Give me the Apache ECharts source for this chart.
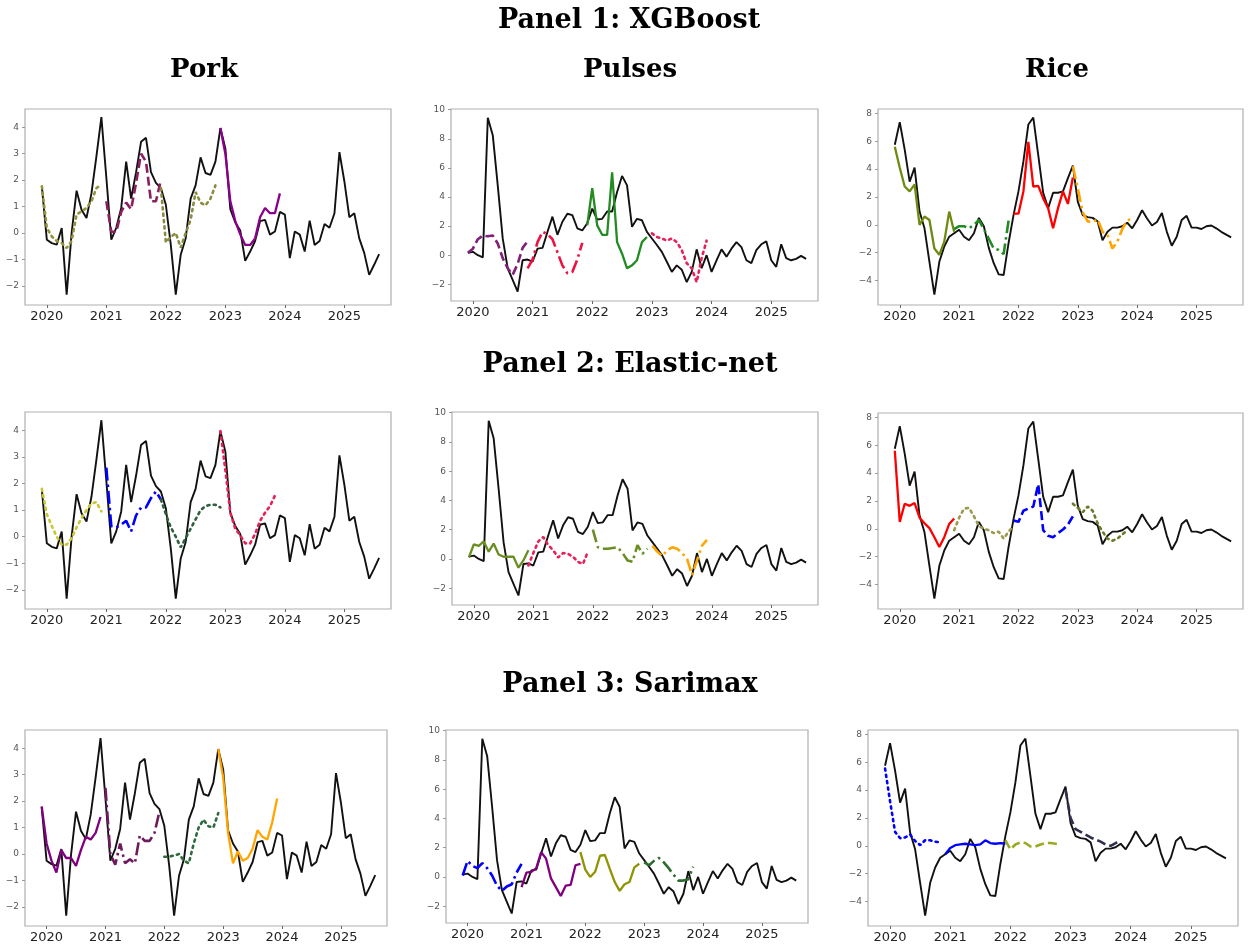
<!DOCTYPE html>
<html><head><meta charset="utf-8">
<script src="https://cdn.jsdelivr.net/npm/echarts@6/dist/echarts.min.js"></script>
<style>html,body{margin:0;padding:0;background:#fff}#c{width:1250px;height:944px}</style>
</head><body><div id="c"></div>
<script>
// ---------------- DATA ----------------
// x = months since Jan 2020; actual series begin Dec 2019 (month -1)
const firstMonth = -1;
const yearTicks = [2020, 2021, 2022, 2023, 2024, 2025];
const commodities = ['Pork', 'Pulses', 'Rice'];
const panelTitles = ['Panel 1: XGBoost', 'Panel 2: Elastic-net', 'Panel 3: Sarimax'];

const porkActual = [1.77,-0.25,-0.38,-0.44,0.19,-2.33,0.0,1.6,0.88,0.57,1.5,2.9,4.38,2.1,-0.25,0.2,0.95,2.7,1.3,2.3,3.45,3.6,2.3,1.9,1.7,1.07,-0.45,-2.33,-0.82,-0.2,1.3,1.8,2.86,2.27,2.2,2.7,3.97,3.2,0.9,0.4,0.1,-1.05,-0.7,-0.3,0.45,0.5,-0.06,0.06,0.8,0.7,-0.95,0.06,-0.06,-0.7,0.47,-0.45,-0.3,0.34,0.2,0.75,3.06,1.95,0.6,0.75,-0.2,-0.75,-1.58,-1.2,-0.8];
const pulsesActual = [0.16,0.23,0.0,-0.15,9.45,8.25,4.8,1.15,-0.9,-1.7,-2.5,-0.35,-0.3,-0.45,0.45,0.5,1.6,2.65,1.4,2.3,2.85,2.75,1.85,1.7,2.2,3.2,2.45,2.5,3.0,3.0,4.35,5.45,4.8,1.95,2.5,2.4,1.6,1.15,0.7,0.23,-0.45,-1.15,-0.7,-1.0,-1.85,-1.15,0.4,-0.9,0.0,-1.15,-0.35,0.4,-0.1,0.45,0.9,0.55,-0.35,-0.55,0.35,0.75,0.95,-0.35,-0.8,0.75,-0.2,-0.35,-0.25,-0.05,-0.25];
const riceActual = [5.75,7.37,5.4,3.1,4.1,0.95,-0.25,-2.65,-5.0,-2.65,-1.55,-0.85,-0.6,-0.35,-0.85,-1.1,-0.6,0.5,-0.1,-1.65,-2.75,-3.55,-3.6,-1.3,0.7,2.4,4.55,7.2,7.7,5.0,2.3,1.2,2.3,2.3,2.4,3.35,4.25,1.65,0.7,0.55,0.5,0.25,-1.1,-0.5,-0.2,-0.2,-0.1,0.15,-0.25,0.35,1.05,0.45,-0.05,0.2,0.85,-0.5,-1.5,-0.85,0.35,0.65,-0.2,-0.2,-0.3,-0.1,-0.05,-0.25,-0.5,-0.7,-0.9];

// forecast segments: start month + values
const porkXgbStarts = [-1, 12, 23, 35];
const porkXgb1 = [1.77,0.2,-0.13,-0.3,-0.38,-0.57,-0.3,0.7,0.82,0.95,1.2,1.7,1.83];
const porkXgb2 = [1.2,0.05,0.05,0.8,1.15,0.9,1.9,3.0,2.7,1.2,1.2,2.0];
const porkXgb3 = [1.7,-0.35,-0.15,0.0,-0.55,0.0,0.5,1.55,1.15,1.05,1.3,1.8];
const porkXgb4 = [3.97,3.0,1.2,0.45,-0.05,-0.45,-0.45,-0.2,0.6,0.95,0.75,0.75,1.5];

const porkEnStarts = [-1, 12, 23, 35];
const porkEn1 = [1.8,0.85,0.4,0.0,-0.3,-0.3,-0.05,0.35,0.7,1.0,1.25,1.3,0.95];
const porkEn2 = [2.6,0.4,0.35,0.45,0.6,0.2,0.8,1.1,1.1,1.45,1.7,1.4];
const porkEn3 = [1.4,0.85,0.35,0.0,-0.4,-0.05,0.3,0.65,1.0,1.15,1.2,1.2,1.1];
const porkEn4 = [3.97,2.5,0.9,0.3,0.05,-0.25,-0.25,0.1,0.6,0.9,1.15,1.55];

const porkSxStarts = [-1, 12, 24, 35];
const porkSx1 = [1.8,0.4,-0.25,-0.7,0.15,-0.15,-0.15,-0.45,0.15,0.65,0.55,0.8,1.4];
const porkSx2 = [2.5,0.0,-0.4,0.4,-0.35,-0.2,-0.35,0.7,0.5,0.5,0.8,1.6];
const porkSx3 = [-0.1,-0.1,-0.05,0.0,-0.25,-0.35,0.4,1.0,1.3,1.05,1.0,1.55];
const porkSx4 = [3.97,2.9,0.8,-0.35,0.1,-0.25,-0.15,0.2,0.9,0.65,0.55,1.2,2.1];

const pulsesXgbStarts = [-1, 11, 23, 36];
const pulsesXgb1 = [0.16,0.45,1.1,1.35,1.3,1.35,0.8,-0.2,-0.9,-1.35,-0.6,0.5,0.95];
const pulsesXgb2 = [-0.9,-0.3,0.9,1.6,1.45,1.1,0.2,-0.7,-1.25,-1.15,-0.3,0.85];
const pulsesXgb3 = [2.05,4.6,2.05,1.4,1.4,5.7,0.9,0.1,-0.9,-0.7,-0.35,0.9,1.25];
const pulsesXgb4 = [1.5,1.25,1.15,1.0,1.15,0.9,0.35,-0.55,-0.9,-1.85,-0.2,1.0];

const pulsesEnStarts = [-1, 11, 24, 36];
const pulsesEn1 = [0.1,1.0,0.9,1.2,0.5,1.05,0.3,0.15,0.15,0.15,-0.6,-0.1,0.6];
const pulsesEn2 = [-0.45,0.4,1.2,1.5,0.95,0.6,0.1,0.4,0.35,0.15,-0.2,-0.35,0.5];
const pulsesEn3 = [2.0,0.8,0.7,0.7,0.75,0.8,0.4,-0.1,-0.2,0.95,0.35,0.7];
const pulsesEn4 = [0.9,0.5,0.2,0.6,0.8,0.7,0.4,0.0,-1.1,-0.1,0.9,1.3];

const pulsesSxStarts = [-1, 11, 23, 36];
const pulsesSx1 = [0.1,1.1,0.75,0.6,0.95,0.6,0.1,-0.6,-0.95,-0.65,-0.5,0.3,0.9];
const pulsesSx2 = [-0.7,0.3,0.35,0.6,1.7,1.25,-0.1,-0.7,-1.3,-0.6,-0.55,0.8,0.9];
const pulsesSx3 = [1.7,0.5,0.0,0.35,1.45,1.5,0.55,-0.35,-0.95,-0.5,-0.35,0.65,0.9];
const pulsesSx4 = [1.0,0.8,1.1,1.3,1.0,0.6,0.15,-0.25,-0.25,-0.15,0.7];

const riceXgbStarts = [-1, 11, 23, 35];
const riceXgb1 = [5.6,4.1,2.75,2.4,2.9,0.0,0.6,0.35,-1.7,-2.15,-1.2,0.95,-0.5];
const riceXgb2 = [-0.3,-0.1,-0.1,-0.25,0.0,0.35,-0.3,-1.0,-1.7,-1.8,-2.1,0.3];
const riceXgb3 = [0.8,0.8,2.4,5.95,2.75,2.8,1.9,1.2,-0.25,1.2,2.4,1.5,3.4];
const riceXgb4 = [4.2,2.6,0.9,0.25,0.2,0.4,-0.5,-0.7,-1.7,-1.2,-0.3,0.3,0.5];

const riceEnStarts = [-1, 11, 23, 35];
const riceEn1 = [5.6,0.5,1.8,1.65,1.85,0.8,0.4,0.05,-0.6,-1.3,-0.6,0.35,0.75];
const riceEn2 = [-0.1,0.8,1.45,1.5,0.9,0.2,0.0,-0.1,-0.3,-0.2,-0.7,-0.2,0.2];
const riceEn3 = [0.6,0.5,1.3,1.45,1.6,3.2,-0.1,-0.5,-0.6,-0.3,-0.05,0.3,0.9];
const riceEn4 = [1.8,1.5,1.2,1.6,1.3,0.4,-0.2,-0.7,-0.85,-0.7,-0.4,-0.1];

const riceSxStarts = [-1, 11, 23, 35];
const riceSx1 = [5.55,3.2,1.0,0.55,0.6,0.8,0.35,0.05,0.4,0.4,0.3,0.25];
const riceSx2 = [-0.6,-0.15,0.05,0.1,0.15,0.1,0.05,0.1,0.4,0.2,0.15,0.2,0.15];
const riceSx3 = [0.4,-0.25,0.1,0.25,0.2,-0.05,-0.05,0.1,0.2,0.2,0.15,0.15];
const riceSx4 = [4.0,2.0,1.2,1.0,0.8,0.6,0.45,0.3,0.1,0.0,0.2,0.3];

const porkTicks = [-2,-1,0,1,2,3,4];
const pulsesTicks = [-2,0,2,4,6,8,10];
const riceTicks = [-4,-2,0,2,4,6,8];

// ---------------- STYLES / LAYOUT ----------------
const DASH = {solid:'solid', dot:[2.2,4.2], dash:[9,4], dashdot:[13,4,2.5,4]};
const styleTable = [
  // row 0 XGBoost
  [[['#94943c','dot'],['#8b2060','dash'],['#8a8a40','dot'],['#8b008b','solid']],
   [['#80207a','dash'],['#ee1144','dashdot'],['#228b22','solid'],['#e8205a','dot']],
   [['#6f8a10','solid'],['#228b22','dashdot'],['#ff0000','solid'],['#ffa500','dashdot']]],
  // row 1 Elastic-net
  [[['#c8c832','dot'],['#0000ff','dashdot'],['#2f5f3f','dot'],['#e8205a','dot']],
   [['#6b8e23','solid'],['#e8205a','dot'],['#6b8e23','dashdot'],['#ffa500','dashdot']],
   [['#ff0000','solid'],['#9a9a50','dot'],['#0000ff','dash'],['#6b7b2b','dot']]],
  // row 2 Sarimax
  [[['#800080','solid'],['#6e1a5e','dashdot'],['#2e6b3e','dot'],['#ffa500','solid']],
   [['#0000ff','dashdot'],['#800080','solid'],['#8f9400','solid'],['#2e6b2e','dashdot']],
   [['#0000ff','dot'],['#0000ff','solid'],['#9aaa20','dash'],['#2f2f4f','dash']]]
];
const gridBoxes = [
  [[25,109,366,196],[451,109,367,192],[878,109,365,196]],
  [[25,412,366,197],[452,412,366,193],[878,413,365,196]],
  [[25,730,362,197],[446,730,362,193],[868,730,370,197]]
];
const yRanges = [[-2.72,4.69],[-3.15,10.05],[-5.75,8.31]];

const actuals = [porkActual, pulsesActual, riceActual];
const tickSets = [porkTicks, pulsesTicks, riceTicks];
const segData = [
  [[porkXgbStarts,[porkXgb1,porkXgb2,porkXgb3,porkXgb4]],[pulsesXgbStarts,[pulsesXgb1,pulsesXgb2,pulsesXgb3,pulsesXgb4]],[riceXgbStarts,[riceXgb1,riceXgb2,riceXgb3,riceXgb4]]],
  [[porkEnStarts,[porkEn1,porkEn2,porkEn3,porkEn4]],[pulsesEnStarts,[pulsesEn1,pulsesEn2,pulsesEn3,pulsesEn4]],[riceEnStarts,[riceEn1,riceEn2,riceEn3,riceEn4]]],
  [[porkSxStarts,[porkSx1,porkSx2,porkSx3,porkSx4]],[pulsesSxStarts,[pulsesSx1,pulsesSx2,pulsesSx3,pulsesSx4]],[riceSxStarts,[riceSx1,riceSx2,riceSx3,riceSx4]]]
];

// ---------------- BUILD ----------------
const grids=[], xAxes=[], yAxes=[], series=[];
const xTickVals = yearTicks.map(y => (y-2020)*12);
const fmtNum = v => (v<0 ? '\u2212'+Math.abs(v) : String(v));
for (let r=0;r<3;r++) for (let c=0;c<3;c++) {
  const i = r*3+c, b = gridBoxes[r][c];
  grids.push({left:b[0], top:b[1], width:b[2], height:b[3], show:true, borderColor:'#b0b0b0', borderWidth:1.2, backgroundColor:'transparent', containLabel:false});
  xAxes.push({gridIndex:i, type:'value', min:-4.4, max:69.4, position:'bottom',
    axisLine:{show:false, onZero:false}, splitLine:{show:false},
    axisTick:{show:true, customValues:xTickVals, length:3, lineStyle:{color:'#666'}},
    axisLabel:{customValues:xTickVals, formatter:v=>String(yearTicks[Math.round(v/12)]), fontSize:13, color:'#222', margin:5, fontFamily:'DejaVu Sans'}});
  yAxes.push({gridIndex:i, type:'value', min:yRanges[c][0], max:yRanges[c][1], position:'left',
    axisLine:{show:false, onZero:false}, splitLine:{show:false},
    axisTick:{show:true, customValues:tickSets[c], length:3, lineStyle:{color:'#999'}},
    axisLabel:{customValues:tickSets[c], formatter:fmtNum, fontSize:9, color:'#555', margin:6, fontFamily:'DejaVu Sans'}});
  series.push({type:'line', xAxisIndex:i, yAxisIndex:i, symbol:'none', z:2,
    data: actuals[c].map((v,k)=>[firstMonth+k, v]),
    lineStyle:{color:'#111', width:1.9}});
  const [starts, vals] = segData[r][c];
  vals.forEach((arr, s) => {
    const st = styleTable[r][c][s];
    series.push({type:'line', xAxisIndex:i, yAxisIndex:i, symbol:'none', z:3,
      data: arr.map((v,k)=>[starts[s]+k, v]),
      lineStyle:{color:st[0], width:st[1]==='solid'?2.3:2.6, type:DASH[st[1]], cap: st[1]==='dot'?'round':'butt'}});
  });
}
const T = (text, x, y, fs) => ({type:'text', x, y, style:{text, fontSize:fs, fontWeight:'bold', fontFamily:'DejaVu Serif', fill:'#000', align:'center', verticalAlign:'middle', textAlign:'center', textVerticalAlign:'middle'}});
const graphics = [
  T(panelTitles[0], 629, 21, 27), T(commodities[0], 204, 70, 26), T(commodities[1], 630, 70, 26), T(commodities[2], 1057, 70, 26),
  T(panelTitles[1], 630, 365, 27), T(panelTitles[2], 630, 685, 27)
];
const chart = echarts.init(document.getElementById('c'), null, {renderer:'canvas'});
chart.setOption({animation:false, backgroundColor:'#fff', grid:grids, xAxis:xAxes, yAxis:yAxes, series, graphic:graphics});
</script></body></html>
